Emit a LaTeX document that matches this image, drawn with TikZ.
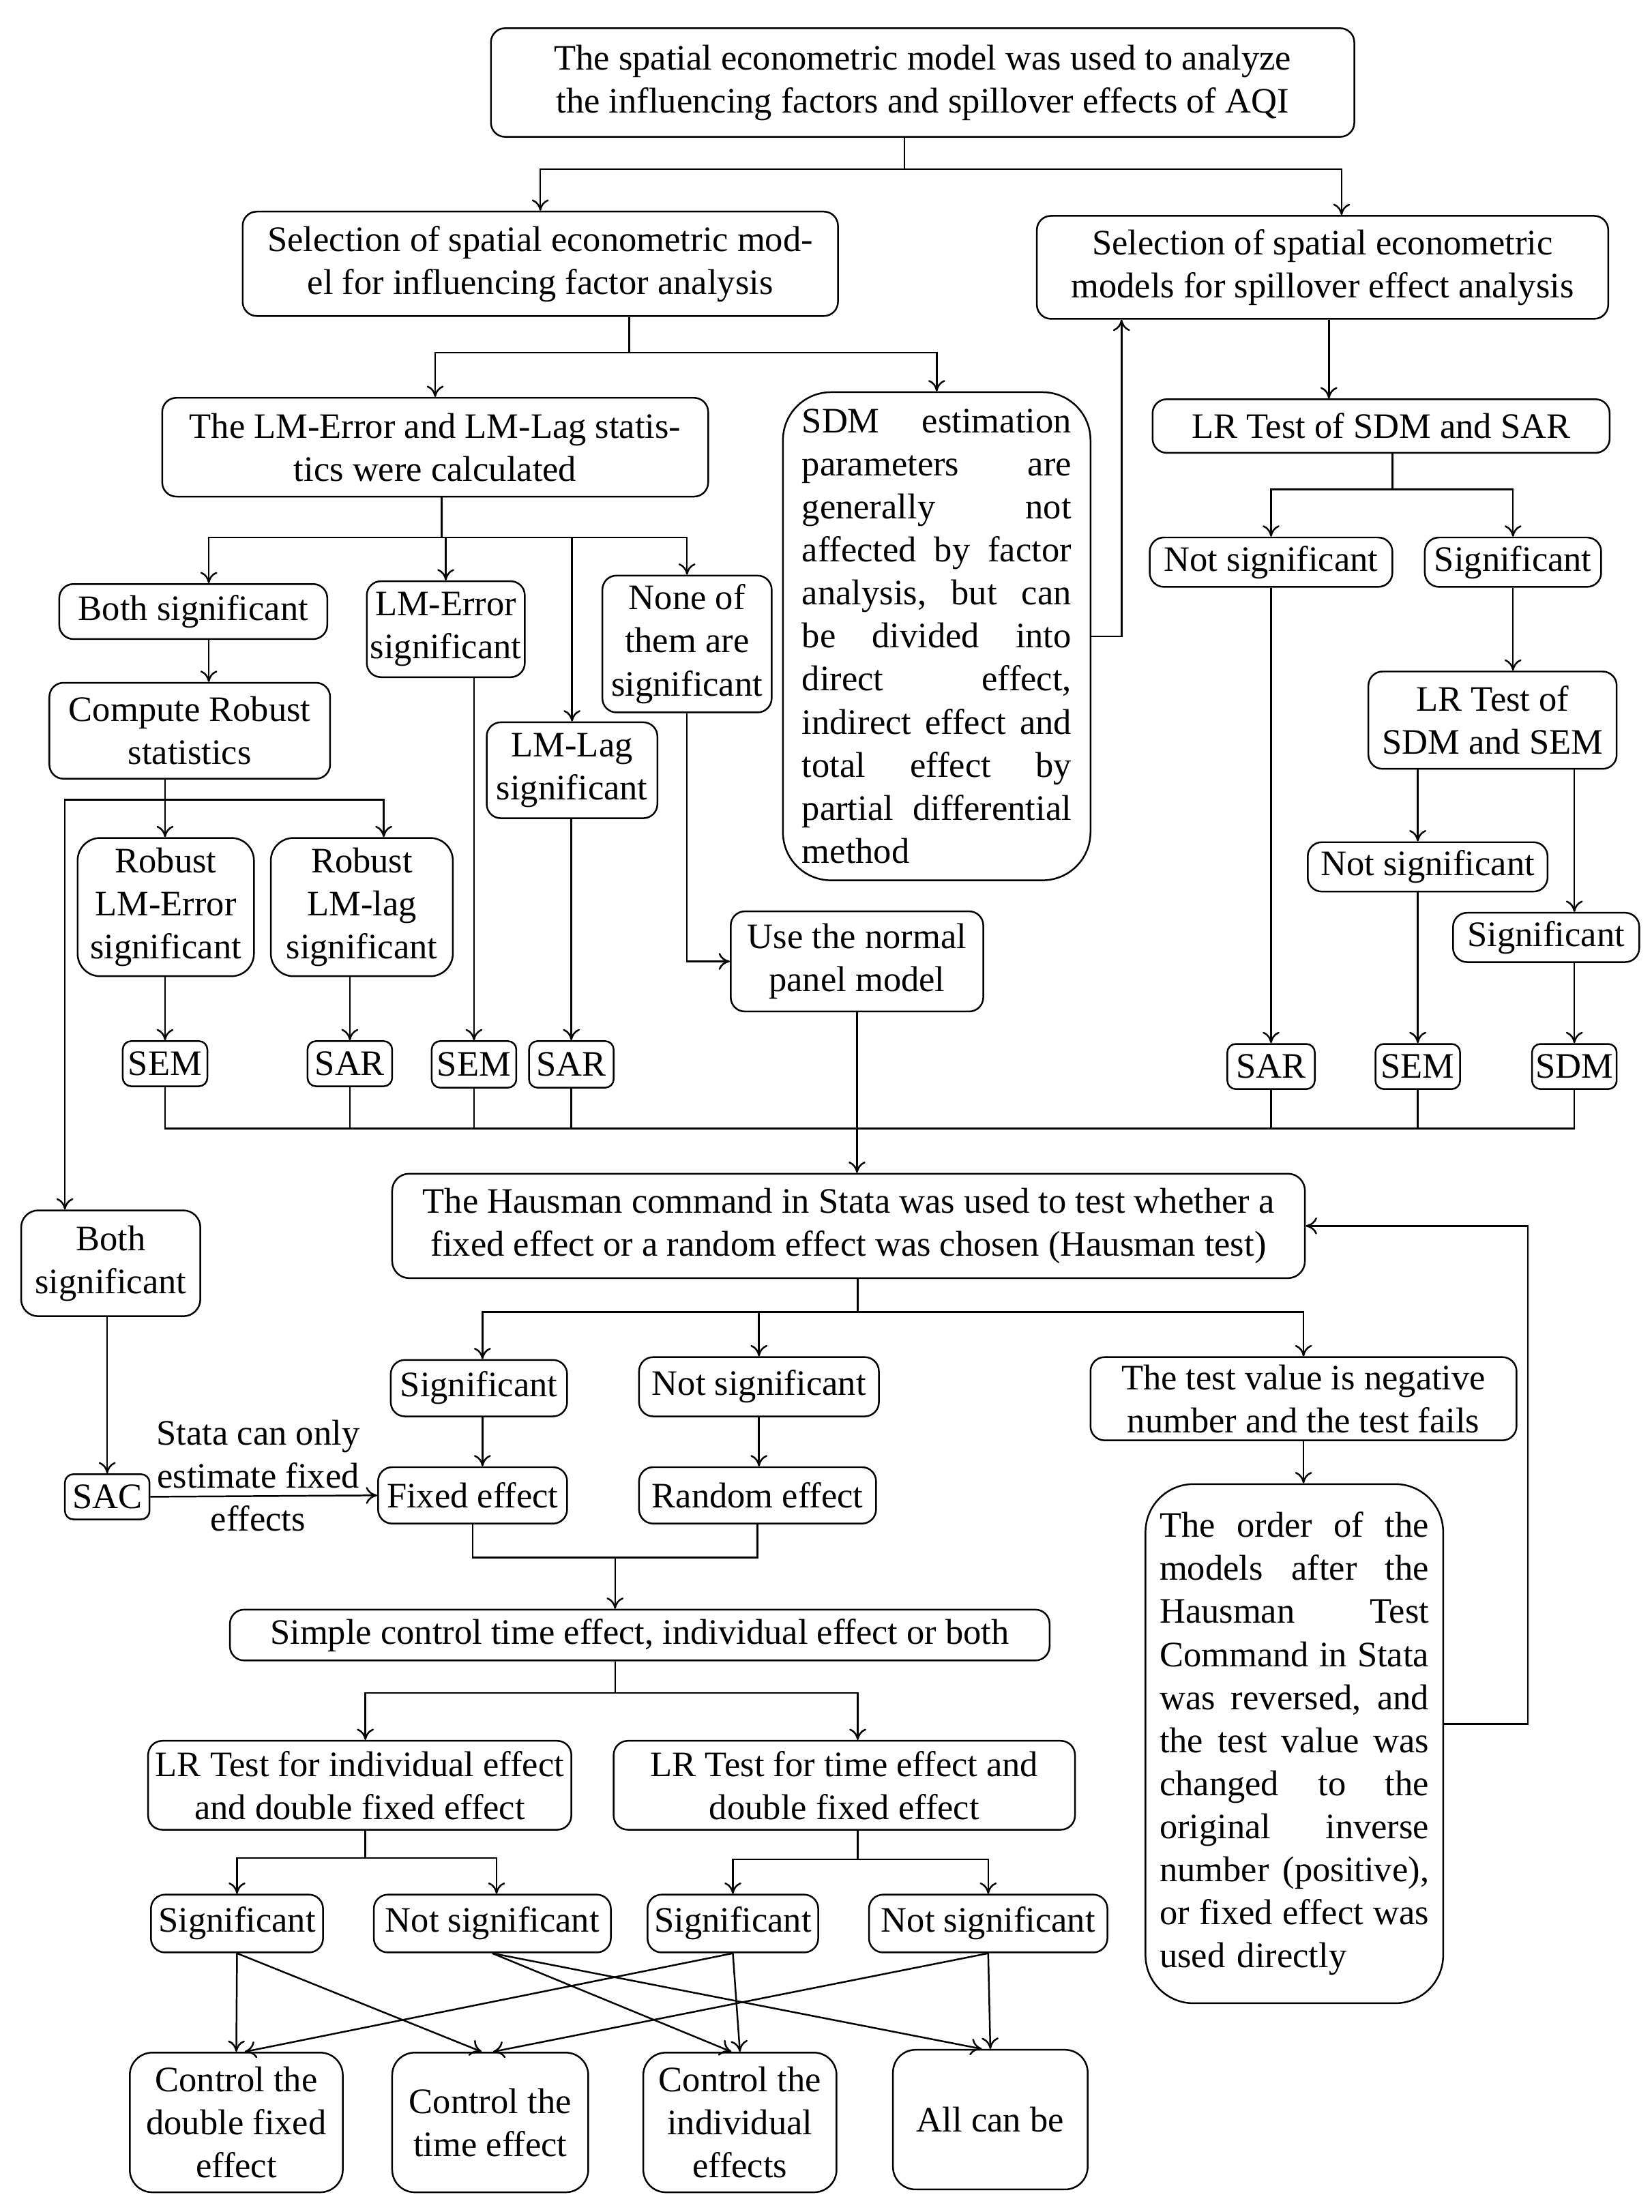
\documentclass[tikz,border=0pt]{standalone}
\usepackage{fontspec}
\setmainfont{Liberation Serif}
\usetikzlibrary{arrows.meta}
\newcommand\bx[7][]{\node[box,minimum width={(#5-#3)*0.5pt},minimum height={(#6-#4)*0.5pt},#1] (#2) at ({(#3+#5)/2},{(#4+#6)/2}) {#7};}
\begin{document}
\begin{tikzpicture}[x=0.5pt,y=-0.5pt,
  font=\fontsize{12.7}{15.25}\selectfont,
  line width=0.6pt,
  box/.style={draw,rounded corners=5pt,align=center,inner sep=0pt},
  small/.style={rounded corners=3pt},
  big/.style={rounded corners=17pt,text width=95.5pt,align=left},
  arr/.style={-{To[length=4pt,width=6pt]}},
  lbl/.style={align=center,inner sep=0pt}]
\useasboundingbox (0,0) rectangle (1171,1568);
% top part
\bx{top}{348}{20}{960}{97}{The spatial econometric model was used to analyze\\the influencing factors and spillover effects of AQI}
\bx{sel1}{172}{150}{594}{224}{Selection of spatial econometric mod-\\el for influencing factor analysis}
\bx{sel2}{735}{153}{1140}{226}{Selection of spatial econometric\\models for spillover effect analysis}
\bx{lm}{115}{282}{502}{352}{The LM-Error and LM-Lag statis-\\tics were calculated}
\bx[big]{sdm}{555}{278}{773}{624}{SDM\hfill estimation\\parameters\hfill are\\generally\hfill not\\affected\hfill by\hfill factor\\analysis,\hfill but\hfill can\\be\hfill divided\hfill into\\direct\hfill effect,\\indirect\hfill effect\hfill and\\total\hfill effect\hfill by\\partial\hfill differential\\method}
% right branch
\bx{lrsar}{817}{283}{1141}{321}{LR Test of SDM and SAR}
\bx{nsr1}{815}{381}{987}{416}{Not significant}
\bx{sigr1}{1010}{381}{1135}{416}{Significant}
\bx{lrsem}{970}{476}{1146}{545}{LR Test of\\SDM and SEM}
\bx{nsr2}{927}{597}{1097}{632}{Not significant}
\bx{sigr2}{1030}{647}{1162}{682}{Significant}
\bx[small]{sarr}{870}{740}{932}{772}{SAR}
\bx[small]{semr}{975}{740}{1035}{772}{SEM}
\bx[small]{sdmr}{1086}{740}{1146}{772}{SDM}
% left branch
\bx{bothsig}{42}{414}{232}{453}{Both significant}
\bx{lmerr}{260}{412}{372}{480}{LM-Error\\significant}
\bx{lmlag}{345}{512}{466}{580}{LM-Lag\\significant}
\bx{none}{427}{408}{547}{505}{None of\\them are\\significant}
\bx{robust}{35}{484}{234}{552}{Compute Robust\\statistics}
\bx[rounded corners=8pt]{roberr}{55}{594}{180}{692}{Robust\\LM-Error\\significant}
\bx[rounded corners=8pt]{roblag}{192}{594}{321}{692}{Robust\\LM-lag\\significant}
\bx[small]{sem1}{87}{738}{147}{770}{SEM}
\bx[small]{sar1}{218}{738}{278}{770}{SAR}
\bx[small]{sem2}{306}{738}{366}{771}{SEM}
\bx[small]{sar2}{375}{738}{435}{771}{SAR}
\bx{normal}{518}{646}{697}{717}{Use the normal\\panel model}
% Hausman part
\bx[rounded corners=6pt]{haus}{278}{832}{925}{906}{The Hausman command in Stata was used to test whether a\\fixed effect or a random effect was chosen (Hausman test)}
\bx{sigh}{277}{964}{402}{1004}{Significant}
\bx{nsh}{453}{962}{623}{1004}{Not significant}
\bx{neg}{773}{962}{1075}{1021}{The test value is negative\\number and the test fails}
\bx{fixed}{268}{1040}{402}{1080}{Fixed effect}
\bx{random}{453}{1040}{621}{1080}{Random effect}
\bx[rounded corners=6pt]{both2}{15}{858}{142}{933}{Both\\significant}
\bx[small]{sac}{46}{1045}{106}{1077}{SAC}
\bx{simple}{163}{1141}{744}{1177}{Simple control time effect, individual effect or both}
\bx{lrind}{105}{1234}{405}{1297}{LR Test for individual effect\\and double fixed effect}
\bx{lrtime}{435}{1234}{762}{1297}{LR Test for time effect and\\double fixed effect}
\bx{sig3}{107}{1343}{229}{1384}{Significant}
\bx{ns3}{265}{1343}{433}{1384}{Not significant}
\bx{sig4}{459}{1343}{580}{1384}{Significant}
\bx{ns4}{616}{1343}{785}{1384}{Not significant}
\bx[rounded corners=8pt]{cd}{92}{1455}{243}{1554}{Control the\\double fixed\\effect}
\bx[rounded corners=8pt]{ct}{278}{1455}{417}{1554}{Control the\\time effect}
\bx[rounded corners=8pt]{ci}{456}{1455}{593}{1554}{Control the\\individual\\effects}
\bx[rounded corners=8pt]{all}{633}{1453}{771}{1552}{All can be}
\bx[big]{order}{812}{1052}{1023}{1420}{The\hfill order\hfill of\hfill the\\models\hfill after\hfill the\\Hausman\hfill Test\\Command\hfill in\hfill Stata\\was\hfill reversed,\hfill and\\the\hfill test\hfill value\hfill was\\changed\hfill to\hfill the\\original\hfill inverse\\number\hfill (positive),\\or\hfill fixed\hfill effect\hfill was\\used directly}
\node[lbl] (lab) at (183,1046) {Stata can only\\estimate fixed\\effects};
% connectors: top
\coordinate (j1) at (641,120);
\coordinate (x951) at (951,0);
\draw (top.south -| j1) -- (j1);
\draw[arr] (j1) -| (sel1.north);
\draw[arr] (j1) -| (sel2.north -| x951);
\coordinate (j2) at (446,250);
\draw (sel1.south -| j2) -- (j2);
\draw[arr] (j2) -| (lm.north);
\draw[arr] (j2) -| (sdm.north);
\coordinate (k1) at (795,450);
\draw[arr] (sdm.east) -| (sel2.south -| k1);
\coordinate (x942) at (942,0);
\draw[arr] (sel2.south -| x942) -- (lrsar.north -| x942);
% right branch
\coordinate (j3) at (987,347);
\draw (lrsar.south -| j3) -- (j3);
\draw[arr] (j3) -| (nsr1.north);
\draw[arr] (j3) -| (sigr1.north);
\draw[arr] (nsr1.south -| sarr) -- (sarr.north);
\draw[arr] (sigr1.south) -- (sigr1.south |- lrsem.north);
\draw[arr] (lrsem.south -| semr) -- (nsr2.north -| semr);
\draw[arr] (nsr2.south -| semr) -- (semr.north);
\draw[arr] (lrsem.south -| sdmr) -- (sigr2.north -| sdmr);
\draw[arr] (sigr2.south -| sdmr) -- (sdmr.north);
% left branch
\coordinate (j4) at (313,381);
\coordinate (x148) at (148,0);
\draw (lm.south -| j4) -- (j4);
\draw[arr] (j4) -| (bothsig.north -| x148);
\draw[arr] (j4) -| (lmerr.north);
\draw[arr] (j4) -| (lmlag.north);
\draw[arr] (j4) -| (none.north);
\draw[arr] (bothsig.south -| x148) -- (robust.north -| x148);
\coordinate (j5) at (117,567);
\coordinate (x272) at (272,0);
\coordinate (x46) at (46,0);
\draw (robust.south -| j5) -- (j5);
\draw[arr] (j5) -- (roberr.north -| j5);
\draw[arr] (j5) -| (roblag.north -| x272);
\draw[arr] (j5) -| (both2.north -| x46);
\draw[arr] (roberr.south -| sem1) -- (sem1.north);
\draw[arr] (roblag.south -| sar1) -- (sar1.north);
\draw[arr] (lmerr.south -| sem2) -- (sem2.north);
\draw[arr] (lmlag.south -| sar2) -- (sar2.north);
\draw[arr] (none.south) |- (normal.west);
% collector
\coordinate (hb) at (0,800);
\draw (sem1.south) |- (sdmr.south |- hb) -- (sdmr.south);
\foreach \n in {sar1,sem2,sar2,sarr,semr} \draw (\n.south) -- (\n.south |- hb);
\draw[arr] (normal.south) -- (normal.south |- haus.north);
% Hausman
\coordinate (j6) at (608,930);
\coordinate (x342) at (342,0);
\draw (haus.south -| j6) -- (j6);
\draw[arr] (j6) -| (sigh.north -| x342);
\draw[arr] (j6) -| (nsh.north);
\draw[arr] (j6) -| (neg.north);
\draw[arr] (sigh.south -| x342) -- (fixed.north -| x342);
\draw[arr] (nsh.south) -- (nsh.south |- random.north);
\draw[arr] (both2.south -| sac) -- (sac.north);
\draw[arr] (sac.east) -- (fixed.west);
\coordinate (j7) at (436,1104);
\draw (fixed.south) |- (random.south |- j7) -- (random.south);
\draw[arr] (j7) -- (simple.north -| j7);
\coordinate (j8) at (436,1200);
\coordinate (x259) at (259,0);
\coordinate (x608) at (608,0);
\draw (simple.south -| j8) -- (j8);
\draw[arr] (j8) -| (lrind.north -| x259);
\draw[arr] (j8) -| (lrtime.north -| x608);
\coordinate (j9) at (259,1317);
\coordinate (x352) at (352,0);
\draw (lrind.south -| j9) -- (j9);
\draw[arr] (j9) -| (sig3.north);
\draw[arr] (j9) -| (ns3.north -| x352);
\coordinate (j10) at (608,1318);
\draw (lrtime.south -| j10) -- (j10);
\draw[arr] (j10) -| (sig4.north);
\draw[arr] (j10) -| (ns4.north);
% crossing arrows
\draw[arr] (sig3.south) -- (cd.north);
\draw[arr] (sig3.south) -- ([xshift=-3pt]ct.north);
\draw[arr] (ns3.south) -- ([xshift=-3pt]ci.north);
\draw[arr] (ns3.south) -- ([xshift=-3pt]all.north);
\draw[arr] (sig4.south) -- ([xshift=3pt]cd.north);
\draw[arr] (sig4.south) -- (ci.north);
\draw[arr] (ns4.south) -- ([xshift=1pt]ct.north);
\draw[arr] (ns4.south) -- (all.north);
% feedback
\draw[arr] (neg.south) -- (neg.south |- order.north);
\coordinate (k3) at (1083,1222);
\draw[arr] (order.east |- k3) -- (k3) |- (haus.east);
\end{tikzpicture}
\end{document}
